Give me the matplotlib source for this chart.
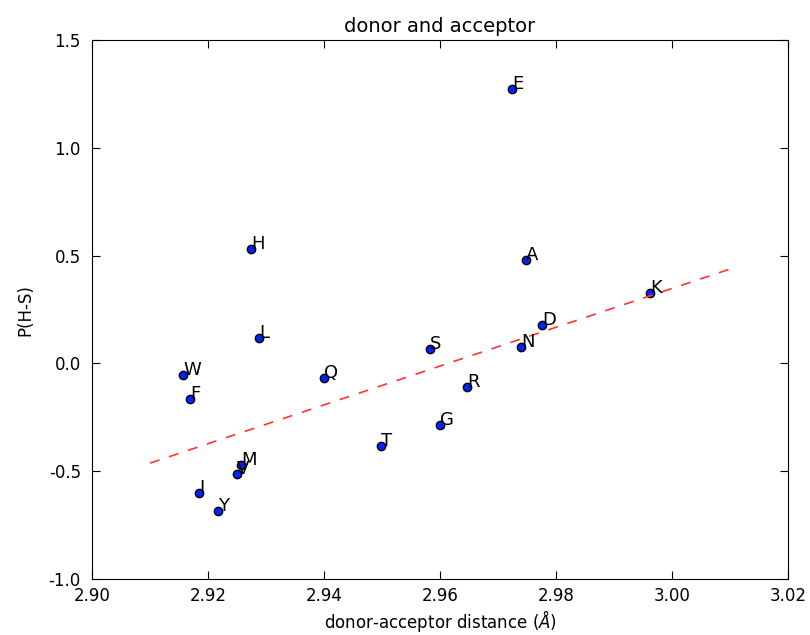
import numpy as np
import matplotlib
matplotlib.use('Agg')
import matplotlib.pyplot as plt

residues = ['E', 'H', 'A', 'K', 'D', 'L', 'S', 'N', 'W', 'Q',
            'R', 'F', 'G', 'T', 'M', 'V', 'I', 'Y']
distance = [2.9724, 2.9274, 2.9748, 2.9962, 2.9776, 2.9288, 2.9583, 2.9740, 2.9157, 2.9400,
            2.9647, 2.9169, 2.9600, 2.9498, 2.9257, 2.9250, 2.9184, 2.9217]
p_hs = [1.273, 0.531, 0.480, 0.327, 0.178, 0.118, 0.067, 0.076, -0.054, -0.068,
        -0.109, -0.165, -0.286, -0.383, -0.471, -0.513, -0.601, -0.685]

# trend line
fit_x = [2.91, 3.01]
fit_y = [-0.462, 0.438]

plt.rcParams['xtick.direction'] = 'in'
plt.rcParams['ytick.direction'] = 'in'
plt.rcParams['xtick.top'] = True
plt.rcParams['ytick.right'] = True
plt.rcParams['font.size'] = 12

fig, ax = plt.subplots(figsize=(8.1, 6.35), dpi=100)
fig.subplots_adjust(left=0.1136, right=0.973, top=0.937, bottom=0.088)

ax.plot(distance, p_hs, 'o', color='#0022ff', markeredgecolor='black', markersize=6)
for name, x, y in zip(residues, distance, p_hs):
    ax.text(x, y, name, fontsize=13)

ax.plot(fit_x, fit_y, '--', color='#ff3333', linewidth=1.2, dashes=(6, 6))

ax.set_xlim(2.90, 3.02)
ax.set_ylim(-1.0, 1.5)
ax.set_xticks(np.arange(2.90, 3.021, 0.02))
ax.set_yticks(np.arange(-1.0, 1.51, 0.5))
ax.xaxis.set_major_formatter(matplotlib.ticker.FormatStrFormatter('%.2f'))
ax.yaxis.set_major_formatter(matplotlib.ticker.FormatStrFormatter('%.1f'))
ax.tick_params(length=6)
ax.tick_params(axis='x', pad=6)
ax.tick_params(axis='y', pad=8)
ax.set_title('donor and acceptor', fontsize=14)
ax.set_xlabel(r'donor-acceptor distance ($\mathit{\AA}$)', labelpad=2)
ax.set_ylabel('P(H-S)', labelpad=10)

fig.savefig('out.png')
